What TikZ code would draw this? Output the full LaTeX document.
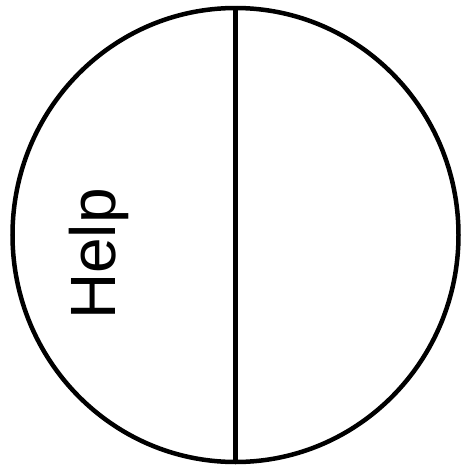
\documentclass[tikz,border=0pt]{standalone}
\usepackage{fontspec}
\setmainfont{Liberation Sans}
\usetikzlibrary{shapes.geometric}
\begin{document}
\begin{tikzpicture}[x=1pt,y=-1pt,
  ring/.style={ellipse,draw,line width=4.5pt,inner sep=0pt,minimum width=446pt,minimum height=454pt},
  divider/.style={line width=4.5pt},
  label/.style={rotate=90,inner sep=0pt,font=\fontsize{64}{64}\selectfont}]
\useasboundingbox (0,0) rectangle (462,466);
\node[ring] (c) at (235.5,235) {};
\draw[divider] (c.north) -- (c.south);
\node[label] (t) at (99,254) {Help};
\end{tikzpicture}
\end{document}
